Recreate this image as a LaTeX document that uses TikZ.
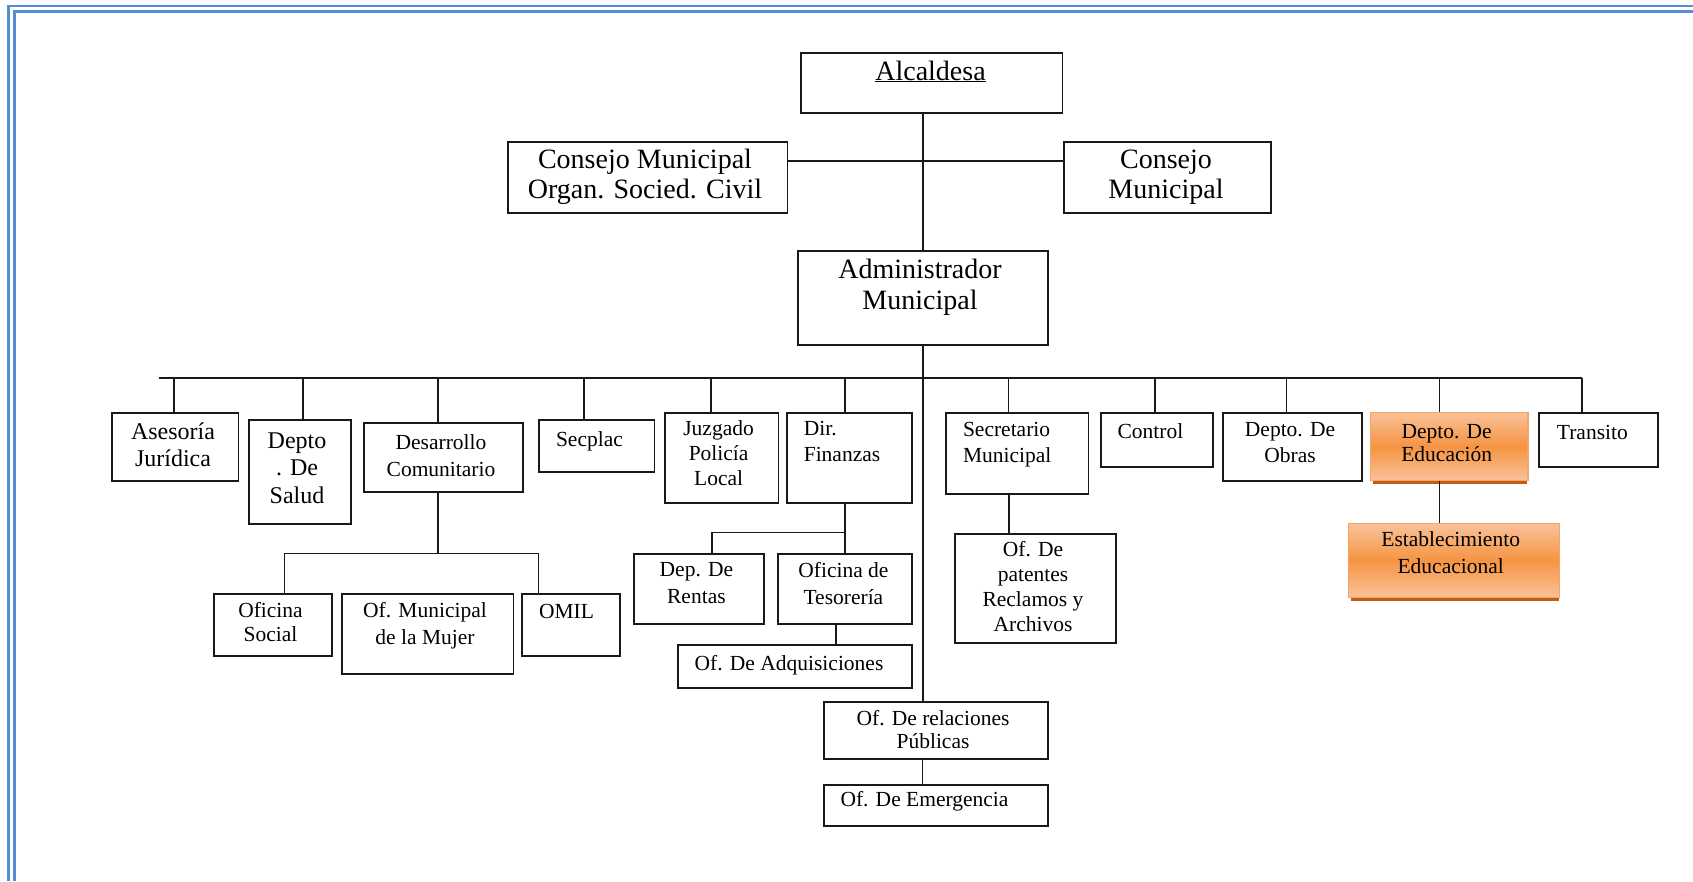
\documentclass[tikz,border=0pt]{standalone}
\usepackage{fontspec}
\setmainfont{Liberation Serif}
\usetikzlibrary{calc}
\definecolor{frameblue}{RGB}{85,142,213}
\definecolor{ink}{RGB}{25,25,25}
\definecolor{orTop}{RGB}{249,194,154}
\definecolor{orMid}{RGB}{245,148,66}
\definecolor{orEdge}{RGB}{247,165,100}
\definecolor{orShadow}{RGB}{196,92,20}
\tikzset{
 boxst/.style={draw=ink, line width=1.8pt, rectangle, inner sep=0pt},
 orbox/.style={draw=orEdge, line width=1.2pt, top color=orTop, bottom color=orTop, middle color=orMid},
 link/.style={draw=ink, line width=1.6pt},
 frame/.style={draw=frameblue, line width=2.8pt},
 big/.style={font=\fontsize{28}{30.5}\selectfont},
 mid/.style={font=\fontsize{24}{27.5}\selectfont},
 sml/.style={font=\fontsize{21.5}{26}\selectfont},
 lab/.style={inner sep=0pt, align=center, anchor=base, text=black},
 labl/.style={inner sep=0pt, align=left, anchor=base west, text=black},
}
% \obox[style]{name}{x1}{y1}{x2}{y2}
\newcommand\obox[6][]{\node[boxst,#1,anchor=north west,minimum width={#5-#3},minimum height={#6-#4}] (#2) at (#3,#4) {};}
\begin{document}
\begin{tikzpicture}[x=1pt,y=-1pt]
\useasboundingbox (0,0) rectangle (1693,881);
\fill[white] (0,0) rectangle (1693,881);
% frame
\draw[frame] (8.5,881) -- (8.5,6) -- (1693,6);
\draw[frame] (14.7,881) -- (14.7,11.7) -- (1693,11.7);

% boxes
\obox{alc}{800}{51.7}{1061.6}{111.7}
\obox{corg}{507}{140.7}{786.6}{212.3}
\obox{cmun}{1063}{140.7}{1269.8}{212.3}
\obox{adm}{796.8}{250.3}{1046.8}{344.3}
\obox{ases}{110.7}{411.7}{237.5}{480}
\obox{salud}{248}{419.3}{350.4}{523.3}
\obox{desa}{363}{422.3}{521.9}{491}
\obox{secp}{538.4}{419.3}{653.6}{470.7}
\obox{juzg}{664}{411.7}{777.6}{502.3}
\obox{fin}{786.4}{411.7}{910.8}{502.3}
\obox{secr}{945.2}{411.7}{1087.6}{492.7}
\obox{ctrl}{1099.8}{411.7}{1211.7}{465.7}
\obox{obras}{1222}{411.7}{1361.3}{480}
\obox{osoc}{213.4}{592.7}{330.8}{655.3}
\obox{mujer}{341}{592.7}{512.5}{672.7}
\obox{omil}{521.4}{592.7}{618.8}{655.3}
\obox{rentas}{633.3}{553.3}{763}{623.3}
\obox{teso}{777.2}{553.3}{910.8}{623.3}
\obox{adq}{677}{644}{910.8}{686.7}
\obox{pat}{954.4}{532.7}{1114.7}{642.3}
\obox{rel}{822.7}{701}{1047.4}{758.3}
\obox{emer}{822.7}{784}{1047.4}{825}
\obox{trans}{1537.7}{411.7}{1656.7}{465.7}
% orange boxes with bottom shadow
\draw[orShadow, line width=3pt] (1373,482.5) -- (1527.3,482.5);
\obox[orbox]{educ}{1370}{411.7}{1527.3}{480}
\draw[orShadow, line width=3pt] (1351,599) -- (1558.7,599);
\obox[orbox]{estab}{1348}{522.7}{1558.7}{596.7}

% connectors
\coordinate (spine) at (923,161);
\coordinate (busL) at (158.7,377.7);
\coordinate (busR) at (1582,377.7);
\draw[link] (alc.south -| spine) -- (adm.north -| spine);
\draw[link] (corg.east |- spine) -- (cmun.west |- spine);
\draw[link] (adm.south -| spine) -- (rel.north -| spine);
\draw[link] (busL) -- (busR);
\foreach \xx/\bb in {174/ases,303/salud,437.8/desa,583.7/secp,711.2/juzg,845/fin,1008.6/secr,1154.8/ctrl,1286.4/obras,1439.4/educ,1582/trans}
  \draw[link] (\xx,377.7) -- (\xx,377.7 |- \bb.north);
\draw[link] (437.8,0 |- desa.south) -- (437.8,553.3);
\draw[link] (284.4,0 |- osoc.north) -- (284.4,553.3) -- (538.4,553.3) -- (538.4,0 |- omil.north);
\draw[link] (845,0 |- fin.south) -- (845,0 |- teso.north);
\draw[link] (845,532.3) -- (711.7,532.3) -- (711.7,0 |- rentas.north);
\draw[link] (835.7,0 |- teso.south) -- (835.7,0 |- adq.north);
\draw[link] (1008.7,0 |- secr.south) -- (1008.7,0 |- pat.north);
\draw[link] (1439.3,0 |- educ.south) -- (1439.3,0 |- estab.north);
\draw[link] (922.6,0 |- rel.south) -- (922.6,0 |- emer.north);

% texts (multi-line nodes: base = baseline of last line)
\node[lab,big] (talc) at (930.5,80) {\underline{Alcaldesa}};
\node[lab,big] (tcorg) at (645,198.5) {Consejo Municipal\\Organ. Socied. Civil};
\node[lab,big] (tcmun) at (1166,198.5) {Consejo\\Municipal};
\node[lab,big,font=\fontsize{28}{31}\selectfont] (tadm) at (920,309.3) {Administrador\\Municipal};
\node[lab,mid,font=\fontsize{24}{27}\selectfont] (tases) at (173,466) {Asesoría\\Jurídica};
\node[lab,mid] (tsalud) at (297,503) {Depto\\. De\\Salud};
\node[lab,sml,font=\fontsize{21.5}{27.7}\selectfont] (tdesa) at (441,476.7) {Desarrollo\\Comunitario};
\node[labl,sml] (tsecp) at (555.8,446) {Secplac};
\node[lab,sml,font=\fontsize{21.5}{25}\selectfont] (tjuzg) at (718.6,485) {Juzgado\\Policía\\Local};
\node[labl,sml,font=\fontsize{21.5}{26.7}\selectfont] (tfin) at (803.6,461.7) {Dir.\\Finanzas};
\node[labl,sml,font=\fontsize{21.5}{26.7}\selectfont] (tsecr) at (962.8,462.7) {Secretario\\Municipal};
\node[labl,sml] (tctrl) at (1117.4,438.3) {Control};
\node[lab,sml] (tobras) at (1290,462.7) {Depto. De\\Obras};
\node[lab,sml,font=\fontsize{21.5}{23}\selectfont] (teduc) at (1446.7,461.3) {Depto. De\\Educación};
\node[labl,sml] (ttrans) at (1556.7,439.3) {Transito};
\node[lab,sml,font=\fontsize{21.5}{24.7}\selectfont] (tosoc) at (270.5,641.7) {Oficina\\Social};
\node[lab,sml,font=\fontsize{21.5}{27}\selectfont] (tmujer) at (425,644) {Of. Municipal\\de la Mujer};
\node[labl,sml] (tomil) at (538.8,618.3) {OMIL};
\node[lab,sml,font=\fontsize{21.5}{26.6}\selectfont] (trentas) at (696.4,603.3) {Dep. De\\Rentas};
\node[lab,sml,font=\fontsize{21.5}{27}\selectfont] (tteso) at (843.4,604) {Oficina de\\Tesorería};
\node[labl,sml] (tadq) at (694.5,670) {Of. De Adquisiciones};
\node[lab,sml,font=\fontsize{21.5}{25}\selectfont] (tpat) at (1033,631.7) {Of. De\\patentes\\Reclamos y\\Archivos};
\node[lab,sml,font=\fontsize{21.5}{26.6}\selectfont] (testab) at (1450.7,573.3) {Establecimiento\\Educacional};
\node[lab,sml,font=\fontsize{21.5}{23.3}\selectfont] (trel) at (933,748.3) {Of. De relaciones\\Públicas};
\node[labl,sml] (temer) at (840.3,806.7) {Of. De Emergencia};
\end{tikzpicture}
\end{document}
